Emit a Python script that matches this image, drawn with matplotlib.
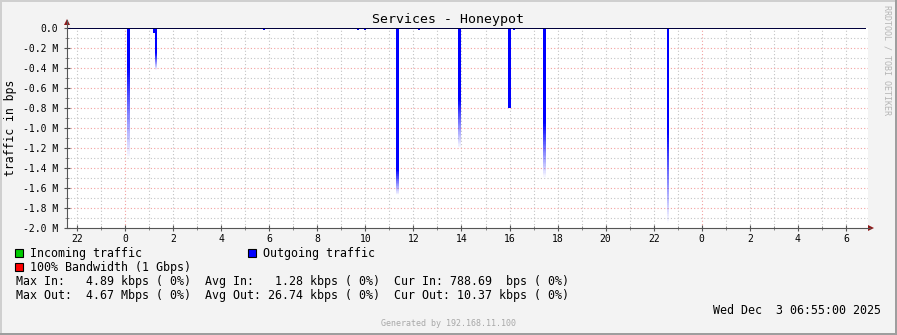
import numpy as np
import matplotlib
matplotlib.use("Agg")
import matplotlib.pyplot as plt
from matplotlib.lines import Line2D
from matplotlib.patches import Rectangle, Polygon

W, H = 897, 335
MONO = "DejaVu Sans Mono"

# time axis in hours after midnight Dec 2 (21:35 Dec 1 .. 06:55 Dec 3)
t_start = -2.4167
t_end = 30.9167

# big outgoing spikes: time (h), solid part (M bps), peak (M bps)
spike_hours = [0.15, 1.29, 11.33, 13.92, 16.0, 17.46, 22.58]
spike_solid = [-0.40, -0.25, -1.42, -0.72, -0.80, -0.95, -1.05]
spike_peak = [-1.30, -0.42, -1.67, -1.20, -0.80, -1.50, -1.95]
spike_width = [0.11, 0.1, 0.12, 0.12, 0.1, 0.1, 0.09]

# small blips near zero
blip_hours = [1.21, 5.77, 7.65, 9.68, 9.8, 10.0, 10.76, 10.86, 12.25, 16.2]
blip_values = [-0.05, -0.015, -0.01, -0.015, -0.012, -0.015, -0.012, -0.012, -0.015, -0.02]

base_out = -0.012  # steady outgoing level

y_ticks = [0.0, -0.2, -0.4, -0.6, -0.8, -1.0, -1.2, -1.4, -1.6, -1.8, -2.0]
y_labels = ["0.0"] + ["%.1f M" % v for v in y_ticks[1:]]
x_ticks = list(range(-2, 31, 2))
x_labels = [str(h % 24) for h in x_ticks]

legend_rows = [
    "Max In:   4.89 kbps ( 0%)  Avg In:   1.28 kbps ( 0%)  Cur In: 788.69  bps ( 0%)",
    "Max Out:  4.67 Mbps ( 0%)  Avg Out: 26.74 kbps ( 0%)  Cur Out: 10.37 kbps ( 0%)",
]


def px(x, y):
    return x / W, 1 - y / H


fig = plt.figure(figsize=(W / 100, H / 100), dpi=100)
fig.patch.set_facecolor("#F3F3F3")

# frame shading
fig.add_artist(Rectangle((0, 0), 2 / W, 1, transform=fig.transFigure, color="#CFCFCF", lw=0))
fig.add_artist(Rectangle((0, 1 - 2 / H), 1, 2 / H, transform=fig.transFigure, color="#CFCFCF", lw=0))
fig.add_artist(Rectangle((1 - 2 / W, 0), 2 / W, 1, transform=fig.transFigure, color="#9E9E9E", lw=0))
fig.add_artist(Rectangle((0, 0), 1, 2 / H, transform=fig.transFigure, color="#9E9E9E", lw=0))

ax = fig.add_axes([67 / W, (H - 228) / H, 801 / W, 200 / H])
ax.set_facecolor("white")
for s in ax.spines.values():
    s.set_visible(False)

# grid
for h in range(-2, 31):
    col = "#F2A0A0" if h % 24 == 0 else "#C4C4C4"
    ax.axvline(h, color=col, lw=0.8, ls=(0, (1, 2)), zorder=1)
for k in range(1, 20):
    col = "#F2A0A0" if k % 2 == 0 else "#C4C4C4"
    ax.axhline(-0.1 * k, color=col, lw=0.8, ls=(0, (1, 2)), zorder=1)

# steady outgoing band
ax.fill_between([t_start, t_end - 0.08], 0, base_out, color="#0000FF", lw=0, zorder=3)

# small blips
for h, v in zip(blip_hours, blip_values):
    ax.add_patch(Rectangle((h - 0.04, v), 0.08, -v, color="#0000FF", lw=0, zorder=3))

# spikes: solid part, then a tail fading to the peak
n_fade = 40
for h, s, p, w in zip(spike_hours, spike_solid, spike_peak, spike_width):
    ax.fill_between([h - w / 2, h + w / 2], 0, s, color="#0000FF", lw=0, zorder=3)
    if p < s:
        edges = np.linspace(s, p, n_fade + 1)
        for i in range(n_fade):
            a = 1.0 - (i + 0.5) / n_fade
            ax.fill_between([h - w / 2, h + w / 2], edges[i], edges[i + 1],
                            color="#0000FF", alpha=a, lw=0, zorder=3)

# zero line
ax.plot([t_start, t_end - 0.08], [0, 0], color="black", lw=1.1, zorder=4,
        solid_capstyle="butt")

ax.set_xlim(t_start, t_end)
ax.set_ylim(-2.0, 0.0)

ax.set_xticks(x_ticks)
ax.set_xticklabels(x_labels, fontfamily=MONO, fontsize=7)
ax.set_xticks(range(-2, 31), minor=True)
ax.set_yticks(y_ticks)
ax.set_yticklabels(y_labels, fontfamily=MONO, fontsize=7)
ax.set_yticks([-0.1 * k for k in range(1, 20, 2)], minor=True)
ax.tick_params(axis="both", which="major", direction="inout", length=5, width=0.8,
               color="#555555", pad=2)
ax.tick_params(axis="both", which="minor", direction="inout", length=3, width=0.6,
               color="#777777")
ax.tick_params(axis="y", pad=4)

# axis lines with arrows
axis_col = "#555555"
arrow_col = "#8E1A1A"
x0, y0 = px(67, 228)
x1, y1 = px(870, 228)
fig.add_artist(Line2D([x0, x1], [y0, y1], transform=fig.transFigure, color=axis_col, lw=0.8))
xa, ya = px(67, 20)
fig.add_artist(Line2D([x0, xa], [y0, ya], transform=fig.transFigure, color=axis_col, lw=0.8))
fig.add_artist(Polygon([px(868, 225), px(874, 228), px(868, 231)], closed=True,
                       transform=fig.transFigure, color=arrow_col, lw=0))
fig.add_artist(Polygon([px(64, 25), px(67, 19), px(70, 25)], closed=True,
                       transform=fig.transFigure, color=arrow_col, lw=0))

# title and labels
fig.text(*px(448, 19), "Services - Honeypot", fontfamily=MONO, fontsize=9.5,
         ha="center", va="center")
fig.text(*px(11, 128), "traffic in bps", fontfamily=MONO, fontsize=8.3,
         ha="center", va="center", rotation=90)
fig.text(*px(887, 5), "RRDTOOL / TOBI OETIKER", fontfamily=MONO, fontsize=6,
         ha="center", va="top", rotation=270, color="#B5B5B5")


# legend
def swatch(x, y, col):
    fig.add_artist(Rectangle(px(x, y + 8), 8 / W, 8 / H, transform=fig.transFigure,
                             facecolor=col, edgecolor="black", lw=0.8))


swatch(15, 249, "#00CC00")
fig.text(*px(30, 254), "Incoming traffic", fontfamily=MONO, fontsize=8.4, va="center")
swatch(248, 249, "#0000FF")
fig.text(*px(263, 254), "Outgoing traffic", fontfamily=MONO, fontsize=8.4, va="center")
swatch(15, 263, "#FF0000")
fig.text(*px(30, 268), "100% Bandwidth (1 Gbps)", fontfamily=MONO, fontsize=8.4, va="center")
for i, row in enumerate(legend_rows):
    fig.text(*px(16, 282 + 14 * i), row, fontfamily=MONO, fontsize=8.4, va="center")
fig.text(*px(881, 310), "Wed Dec  3 06:55:00 2025", fontfamily=MONO, fontsize=8.4,
         ha="right", va="center")
fig.text(*px(448, 324), "Generated by 192.168.11.100", fontfamily=MONO, fontsize=6,
         ha="center", va="center", color="#A8A8A8")

fig.savefig("out.png", dpi=100, facecolor=fig.get_facecolor())
